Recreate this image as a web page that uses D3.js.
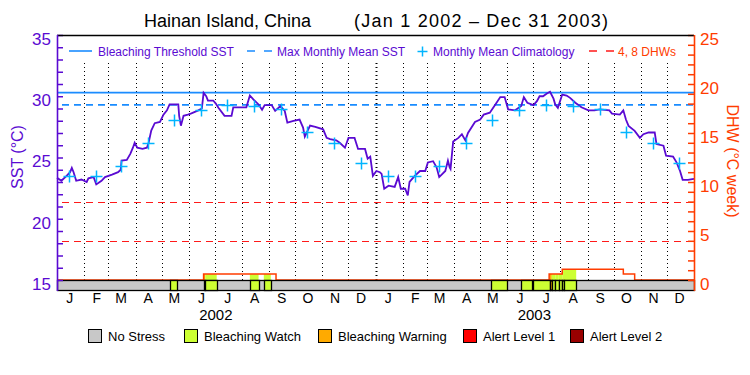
<!DOCTYPE html>
<html><head><meta charset="utf-8">
<script src="https://cdn.jsdelivr.net/npm/d3@7"></script>
<style>body{margin:0;background:#fff}svg{display:block;font-family:"Liberation Sans",Arial,sans-serif}</style>
</head><body><svg id="c" width="750" height="375"></svg>
<script>
const titlePlace = "Hainan Island, China";
const titlePeriod = "(Jan 1 2002 – Dec 31 2003)";
const startDate = "2002-01-01", endDate = "2004-01-01";
const sstDays = [0,5,11,15,17,19,22,28,34,36,42,45,51,55,63,70,73,74,80,84,87,89,92,98,103,105,108,112,118,122,126,129,139,140,142,145,150,154,162,166,168,171,173,179,182,185,192,200,202,217,221,225,231,235,238,246,250,256,261,264,271,278,282,284,290,296,305,309,313,320,324,330,334,341,345,353,356,359,362,366,370,372,375,380,387,391,394,399,402,404,410,416,422,425,431,435,438,445,448,450,451,454,460,464,468,471,479,485,489,496,502,508,513,517,525,532,535,539,546,550,553,557,561,565,569,571,574,579,584,588,594,601,609,616,622,633,636,645,649,652,655,662,668,672,678,685,687,695,698,706,710,714,717,723,730];
const sstValues = [23.35,23.1,23.5,23.8,24.15,23.8,23.1,23.2,23.0,23.3,23.4,22.8,23.1,23.4,23.6,23.8,24.0,24.75,24.8,25.3,25.8,26.2,25.8,25.7,25.8,26.2,27.2,27.8,27.9,28.5,28.85,29.33,29.33,28.4,27.6,28.4,28.5,28.6,28.85,29.0,30.28,30.0,29.65,29.65,29.4,29.06,28.4,28.4,29.1,29.1,30.06,29.74,29.33,28.9,29.28,29.28,28.8,29.2,28.8,27.85,27.98,28.1,27.44,26.7,27.6,27.5,27.3,26.6,26.5,26.4,26.2,25.8,26.6,26.6,25.7,25.7,24.9,25.07,23.5,23.9,23.8,23.66,22.45,22.7,22.6,23.4,22.45,22.45,21.9,23.0,23.5,23.9,23.9,24.6,24.7,24.2,23.4,23.9,24.74,24.2,24.07,26.3,26.6,26.9,26.4,27.0,27.9,28.1,28.5,28.66,29.28,29.93,29.93,28.93,28.85,29.2,29.93,29.47,29.28,29.6,30.0,30.0,30.2,30.36,29.8,29.33,29.06,30.14,30.06,29.87,29.47,29.1,28.85,28.85,28.93,28.85,28.58,28.5,28.85,28.1,27.58,27.17,26.6,26.9,27.04,27.04,26.1,25.96,25.15,25.07,24.6,23.9,23.18,23.18,23.26];
const climValues = [23.5,23.5,24.3,26.15,28.05,28.85,29.3,29.2,28.95,27.05,26.2,24.55];
const mmmSST = 29.3;
const thresholdSST = 30.3;
const dhwRefLines = [4, 8];
const dhwDates = ["2002-01-01","2002-06-18","2002-09-09","2003-07-19","2003-08-03","2003-10-12","2003-10-25","2004-01-01"];
const dhwValues = [0,0.6,0,0.6,1.1,0.6,0,0];
const stressStart = ["2002-05-11","2002-06-18","2002-06-20","2002-08-10","2002-08-26","2003-05-13","2003-06-17","2003-06-30","2003-07-20","2003-07-22","2003-07-26","2003-07-30","2003-08-03","2003-08-05"];
const stressEnd   = ["2002-05-18","2002-06-20","2002-07-03","2002-08-20","2002-09-03","2003-06-01","2003-06-29","2003-07-20","2003-07-22","2003-07-26","2003-07-30","2003-08-03","2003-08-05","2003-08-19"];
const stressLevel = [1,2,1,1,1,1,1,1,2,1,1,1,1,1];
const stressNames = ["No Stress","Bleaching Watch","Bleaching Warning","Alert Level 1","Alert Level 2"];
const stressColors = ["#c8c8c8","#ccff33","#ffaa00","#ff0000","#990000"];
const monthLetters = ["J","F","M","A","M","J","J","A","S","O","N","D"];
const yearLabels = ["2002","2003"];
const sstTickLabels = [15,20,25,30,35];
const dhwTickLabels = [0,5,10,15,20,25];
const legendTop = ["Bleaching Threshold SST","Max Monthly Mean SST","Monthly Mean Climatology","4, 8 DHWs"];

const PURPLE = "#5a0ad2", ORANGE = "#ff3c00", BLUE = "#1a8cff", CYAN = "#00b4ff", RED = "#ff1a1a";
const parse = d3.utcParse("%Y-%m-%d");
const t0 = parse(startDate), t1 = parse(endDate);
const L = 57, R = 694, TOP = 35, ZERO = 280, BOT = 290;
const x = d3.scaleUtc().domain([t0, t1]).range([L, R]);
const ySST = d3.scaleLinear().domain([15, 35]).range([ZERO, TOP]);
const yDHW = d3.scaleLinear().domain([0, 25]).range([ZERO, TOP]);
const svg = d3.select("#c");
const px = v => Math.round(v) + 0.5;

// title
svg.append("text").attr("x", 144).attr("y", 27).attr("font-size", 18).attr("textLength", 167).attr("lengthAdjust", "spacing").text(titlePlace);
svg.append("text").attr("x", 354).attr("y", 27).attr("font-size", 18).attr("textLength", 254).attr("lengthAdjust", "spacing").text(titlePeriod);

// month grid
const months = d3.utcMonth.range(d3.utcMonth.offset(t0, 1), t1);
svg.append("g").selectAll("line").data(months).join("line")
  .attr("x1", d => px(x(d))).attr("x2", d => px(x(d))).attr("y1", 63).attr("y2", ZERO)
  .attr("stroke", "#000").attr("stroke-width", d => d.getUTCMonth() === 0 ? 2 : 1)
  .attr("stroke-dasharray", "1,3");

// reference lines
const ref = svg.append("g");
ref.append("line").attr("x1", L).attr("x2", R).attr("y1", ySST(thresholdSST)).attr("y2", ySST(thresholdSST))
  .attr("stroke", BLUE).attr("stroke-width", 1.6);
ref.append("line").attr("x1", L + 5).attr("x2", R).attr("y1", ySST(mmmSST)).attr("y2", ySST(mmmSST))
  .attr("stroke", BLUE).attr("stroke-width", 1.6).attr("stroke-dasharray", "7,5");
ref.selectAll("line.dhw").data(dhwRefLines).join("line").attr("class", "dhw")
  .attr("x1", L + 5).attr("x2", R).attr("y1", d => px(yDHW(d))).attr("y2", d => px(yDHW(d)))
  .attr("stroke", RED).attr("stroke-width", 1.2).attr("stroke-dasharray", "7,5");

// DHW series
const dhw = dhwDates.map((d, i) => ({t: parse(d), v: dhwValues[i]}));
const dhwAt = t => { let v = 0; dhw.forEach(p => { if (p.t <= t) v = p.v; }); return v; };
const segs = stressStart.map((s, i) => ({s: parse(s), e: parse(stressEnd[i]), lvl: stressLevel[i]}));

const areaGen = d3.area().x(d => x(d.t)).y0(yDHW(0)).y1(d => yDHW(d.v)).curve(d3.curveStepAfter);
segs.forEach(sg => {
  const pts = [{t: sg.s, v: dhwAt(sg.s)}];
  dhw.forEach(p => { if (p.t > sg.s && p.t < sg.e) pts.push({t: p.t, v: p.v}); });
  pts.push({t: sg.e, v: dhwAt(sg.e)});
  svg.append("path").datum(pts).attr("d", areaGen).attr("fill", stressColors[sg.lvl]);
});
const dhwLine = d3.line().x(d => x(d.t)).y(d => yDHW(d.v)).curve(d3.curveStepAfter);
svg.append("path").datum(dhw).attr("d", dhwLine).attr("fill", "none").attr("stroke", ORANGE).attr("stroke-width", 1.5);

// stress bar
svg.append("rect").attr("x", L + 0.5).attr("y", ZERO + 0.5).attr("width", R - L).attr("height", BOT - ZERO)
  .attr("fill", stressColors[0]).attr("stroke", "#000").attr("stroke-width", 1.3);
svg.append("g").selectAll("rect").data(segs).join("rect")
  .attr("x", d => px(x(d.s))).attr("y", ZERO + 0.5).attr("width", d => Math.max(1, Math.round(x(d.e)) - Math.round(x(d.s))))
  .attr("height", BOT - ZERO).attr("fill", d => stressColors[d.lvl]).attr("stroke", "#000").attr("stroke-width", 1.3);

// SST line
const sst = sstDays.map((d, i) => ({t: d3.utcDay.offset(t0, d), v: sstValues[i]}));
svg.append("path").datum(sst)
  .attr("d", d3.line().x(d => x(d.t)).y(d => ySST(d.v)))
  .attr("fill", "none").attr("stroke", PURPLE).attr("stroke-width", 1.8).attr("stroke-linejoin", "miter");

// climatology crosses
const clim = [];
[2002, 2003].forEach(yr => climValues.forEach((v, m) => clim.push({t: new Date(Date.UTC(yr, m, 15)), v})));
const cross = (g, cx, cy, a) => {
  g.append("line").attr("x1", cx - a).attr("x2", cx + a).attr("y1", cy).attr("y2", cy);
  g.append("line").attr("x1", cx).attr("x2", cx).attr("y1", cy - a).attr("y2", cy + a);
};
const cg = svg.append("g").attr("stroke", CYAN).attr("stroke-width", 1.5);
clim.forEach(d => cross(cg, px(x(d.t)), px(ySST(d.v)), 6));

// axes
const leftAxis = d3.axisLeft(ySST).tickValues(d3.range(15, 36)).tickSize(-6).tickPadding(6)
  .tickFormat(d => sstTickLabels.includes(d) ? d : "");
const lg = svg.append("g").attr("transform", `translate(${L},0)`).call(leftAxis);
lg.select(".domain").remove();
lg.selectAll("line").attr("stroke", PURPLE).attr("stroke-width", 1.5);
lg.selectAll("text").attr("fill", PURPLE).attr("font-size", 17).attr("font-family", "Liberation Sans, Arial").attr("dy", "0.55em");
const rightAxis = d3.axisRight(yDHW).tickValues(d3.range(0, 26)).tickSize(-6).tickPadding(6)
  .tickFormat(d => dhwTickLabels.includes(d) ? d : "");
const rg = svg.append("g").attr("transform", `translate(${R},0)`).call(rightAxis);
rg.select(".domain").remove();
rg.selectAll("line").attr("stroke", ORANGE).attr("stroke-width", 1.5);
rg.selectAll("text").attr("fill", ORANGE).attr("font-size", 17).attr("font-family", "Liberation Sans, Arial").attr("dy", "0.55em");

// frame
svg.append("line").attr("x1", L).attr("x2", R).attr("y1", TOP + 0.5).attr("y2", TOP + 0.5).attr("stroke", "#000").attr("stroke-width", 1.3);
svg.append("line").attr("x1", L + 0.5).attr("x2", L + 0.5).attr("y1", TOP).attr("y2", BOT + 1).attr("stroke", PURPLE).attr("stroke-width", 1.6);
svg.append("line").attr("x1", R + 0.5).attr("x2", R + 0.5).attr("y1", TOP).attr("y2", BOT + 1).attr("stroke", ORANGE).attr("stroke-width", 1.6);

// axis titles
svg.append("text").attr("transform", "translate(23,157) rotate(-90)").attr("text-anchor", "middle")
  .attr("fill", PURPLE).attr("font-size", 16).text("SST (°C)");
svg.append("text").attr("transform", "translate(727,161) rotate(90)").attr("text-anchor", "middle")
  .attr("fill", ORANGE).attr("font-size", 16).text("DHW (°C week)");

// month labels
const mids = d3.utcMonth.range(t0, t1).map(d => new Date(Date.UTC(d.getUTCFullYear(), d.getUTCMonth(), 15)));
const bx = d3.axisBottom(x).tickValues(mids).tickSize(0).tickPadding(3).tickFormat(d => monthLetters[d.getUTCMonth()]);
const bg = svg.append("g").attr("transform", `translate(0,${BOT})`).call(bx);
bg.select(".domain").remove();
bg.selectAll("text").attr("font-size", 14).attr("font-family", "Liberation Sans, Arial").attr("fill", "#000");
svg.append("g").selectAll("text").data(yearLabels).join("text")
  .attr("x", d => x(new Date(Date.UTC(+d, 6, 2)))).attr("y", 320).attr("text-anchor", "middle")
  .attr("font-size", 15).text(d => d);

// top legend
const ly = 51;
const tl = svg.append("g");
tl.append("line").attr("x1", 69).attr("x2", 92).attr("y1", ly).attr("y2", ly).attr("stroke", BLUE).attr("stroke-width", 1.6);
tl.append("line").attr("x1", 247).attr("x2", 272).attr("y1", ly).attr("y2", ly).attr("stroke", BLUE).attr("stroke-width", 1.6).attr("stroke-dasharray", "8,9");
cross(svg.append("g").attr("stroke", CYAN).attr("stroke-width", 1.5), 422.5, ly + 0.5, 5);
tl.append("line").attr("x1", 589).attr("x2", 614).attr("y1", ly).attr("y2", ly).attr("stroke", RED).attr("stroke-width", 1.6).attr("stroke-dasharray", "8,9");
const ltx = [98, 277, 433, 618];
svg.append("g").selectAll("text").data(legendTop).join("text")
  .attr("x", (d, i) => ltx[i]).attr("y", ly + 4.5).attr("font-size", 12)
  .attr("fill", (d, i) => i === 3 ? ORANGE : PURPLE).text(d => d);

// bottom legend
const boxX = [88, 184, 318, 463, 570];
const lgb = svg.append("g").selectAll("g").data(stressNames).join("g");
lgb.append("rect").attr("x", (d, i) => boxX[i] + 0.5).attr("y", 329.5).attr("width", 13).attr("height", 13)
  .attr("fill", (d, i) => stressColors[i]).attr("stroke", "#000").attr("stroke-width", 1);
lgb.append("text").attr("x", (d, i) => boxX[i] + 20).attr("y", 341).attr("font-size", 13).text(d => d);
</script></body></html>
